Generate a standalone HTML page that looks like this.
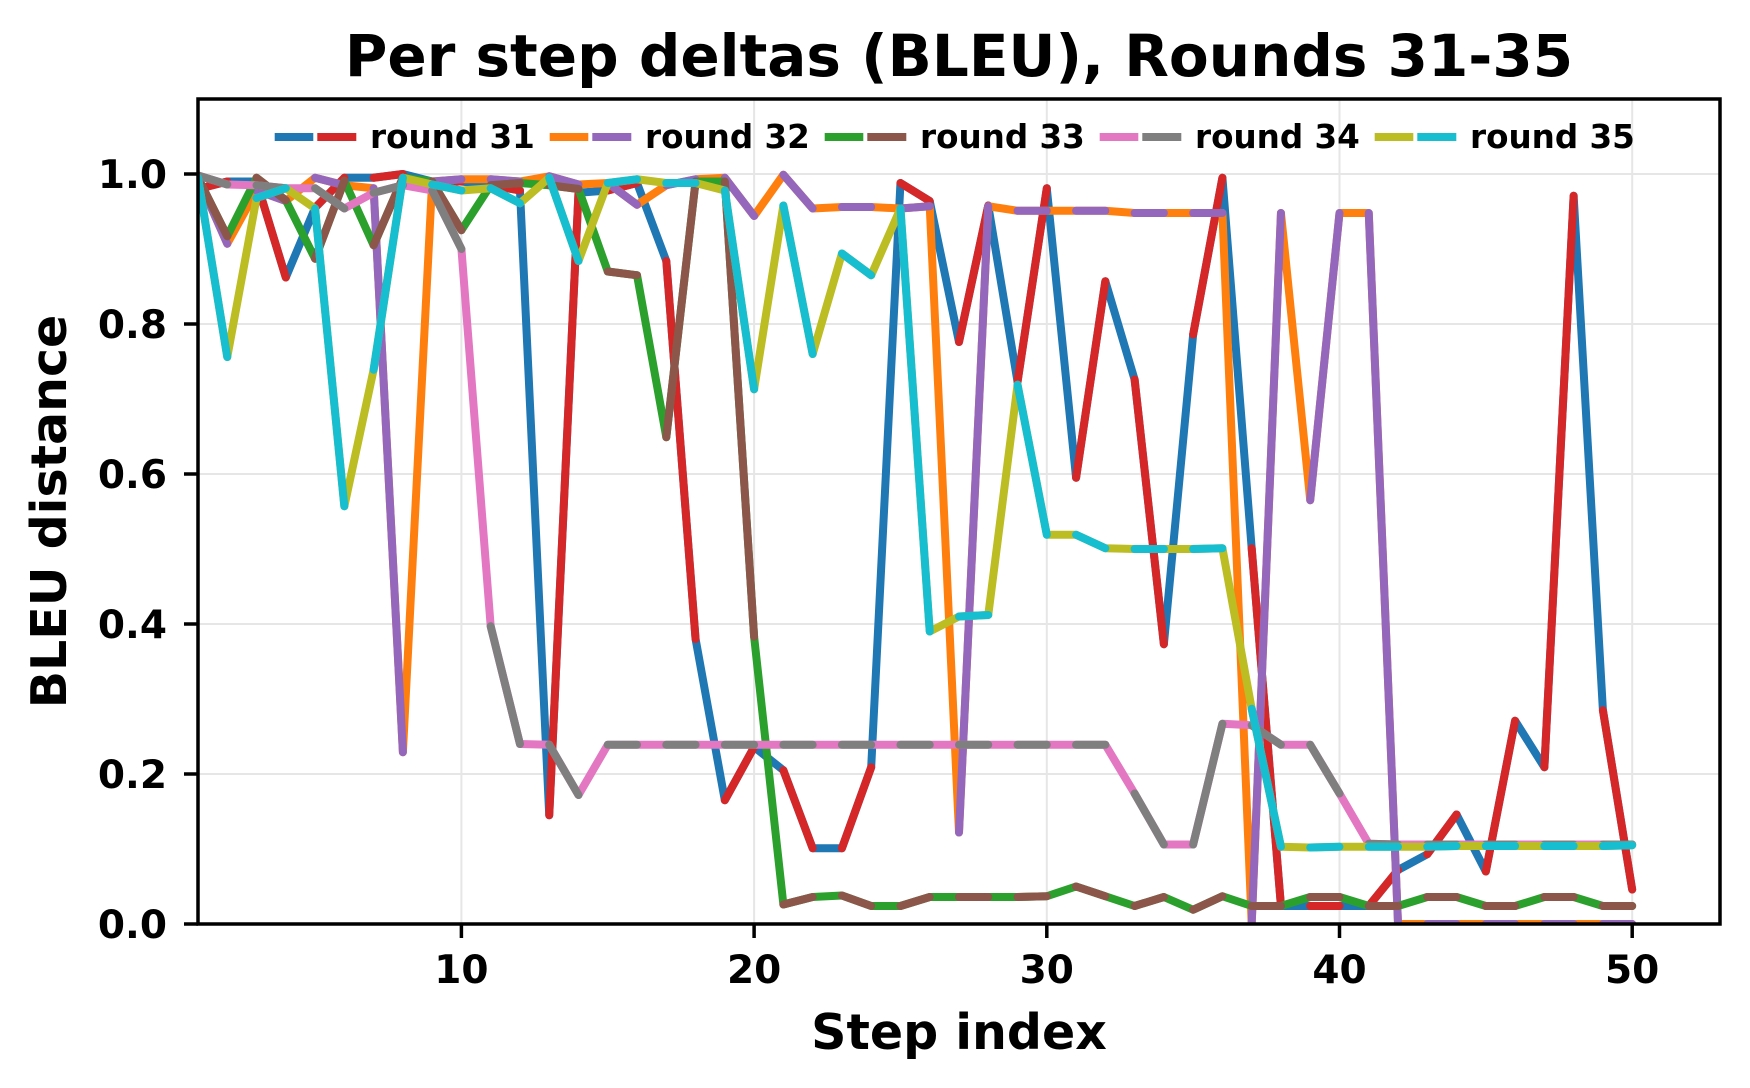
<!DOCTYPE html>
<html>
<head>
<meta charset="utf-8">
<style>
  html, body { margin: 0; padding: 0; background: #ffffff; }
  svg { display: block; }
  text { font-family: "DejaVu Sans", "Liberation Sans", sans-serif; font-weight: bold; fill: #000; }
  .ser { fill: none; stroke-width: 8; stroke-linecap: round; stroke-linejoin: round; vector-effect: non-scaling-stroke; }
</style>
</head>
<body>
<svg width="1750" height="1088" viewBox="0 0 1750 1088" xmlns="http://www.w3.org/2000/svg">
  <rect x="0" y="0" width="1750" height="1088" fill="#ffffff"/>
  <defs>
    <clipPath id="ax">
      <rect x="198" y="99" width="1522" height="825"/>
    </clipPath>
  </defs>

  <!-- grid -->
  <g stroke="#e6e6e6" stroke-width="2">
    <line x1="198" y1="924" x2="1720" y2="924"/>
    <line x1="198" y1="774" x2="1720" y2="774"/>
    <line x1="198" y1="624" x2="1720" y2="624"/>
    <line x1="198" y1="474" x2="1720" y2="474"/>
    <line x1="198" y1="324" x2="1720" y2="324"/>
    <line x1="198" y1="174" x2="1720" y2="174"/>
    <line x1="461.4" y1="99" x2="461.4" y2="924"/>
    <line x1="754.1" y1="99" x2="754.1" y2="924"/>
    <line x1="1046.8" y1="99" x2="1046.8" y2="924"/>
    <line x1="1339.5" y1="99" x2="1339.5" y2="924"/>
    <line x1="1632.2" y1="99" x2="1632.2" y2="924"/>
  </g>

  <!-- data -->
  <g clip-path="url(#ax)">
    <g transform="translate(198,924) scale(29.269,-750)">
      <!-- round 31 -->
      <polyline class="ser" stroke="#1f77b4" points="0,0.98 1,0.99 2,0.99 3,0.862 4,0.955 5,0.995 6,0.995 7,1 8,0.99 9,0.99 10,0.985 11,0.978 12,0.145 13,0.975 14,0.978 15,0.988 16,0.884 17,0.38 18,0.165 19,0.236 20,0.205 21,0.101 22,0.101 23,0.209 24,0.988 25,0.964 26,0.776 27,0.958 28,0.723 29,0.981 30,0.595 31,0.857 32,0.726 33,0.373 34,0.786 35,0.995 36,0.501 37,0.024 38,0.024 39,0.024 40,0.024 41,0.072 42,0.093 43,0.146 44,0.07 45,0.271 46,0.209 47,0.971 48,0.285 49,0.046"/>
      <path class="ser" stroke="#d62728" d="M0,0.98L1,0.99 M2,0.99L3,0.862 M4,0.955L5,0.995 M6,0.995L7,1 M8,0.99L9,0.99 M10,0.985L11,0.978 M12,0.145L13,0.975 M14,0.978L15,0.988 M16,0.884L17,0.38 M18,0.165L19,0.236 M20,0.205L21,0.101 M22,0.101L23,0.209 M24,0.988L25,0.964 M26,0.776L27,0.958 M28,0.723L29,0.981 M30,0.595L31,0.857 M32,0.726L33,0.373 M34,0.786L35,0.995 M36,0.501L37,0.024 M38,0.024L39,0.024 M40,0.024L41,0.072 M42,0.093L43,0.146 M44,0.07L45,0.271 M46,0.209L47,0.971 M48,0.285L49,0.046"/>

      <!-- round 32 -->
      <polyline class="ser" stroke="#ff7f0e" points="0,0.995 1,0.907 2,0.978 3,0.964 4,0.995 5,0.985 6,0.981 7,0.229 8,0.99 9,0.993 10,0.993 11,0.99 12,0.997 13,0.986 14,0.988 15,0.959 16,0.985 17,0.993 18,0.995 19,0.944 20,0.999 21,0.954 22,0.956 23,0.956 24,0.954 25,0.957 26,0.122 27,0.957 28,0.951 29,0.951 30,0.951 31,0.951 32,0.948 33,0.948 34,0.948 35,0.948 36,0 37,0.948 38,0.565 39,0.948 40,0.948 41,0 42,0 43,0 44,0 45,0 46,0 47,0 48,0 49,0"/>
      <path class="ser" stroke="#9467bd" d="M0,0.995L1,0.907 M2,0.978L3,0.964 M4,0.995L5,0.985 M6,0.981L7,0.229 M8,0.99L9,0.993 M10,0.993L11,0.99 M12,0.997L13,0.986 M14,0.988L15,0.959 M16,0.985L17,0.993 M18,0.995L19,0.944 M20,0.999L21,0.954 M22,0.956L23,0.956 M24,0.954L25,0.957 M26,0.122L27,0.957 M28,0.951L29,0.951 M30,0.951L31,0.951 M32,0.948L33,0.948 M34,0.948L35,0.948 M36,0L37,0.948 M38,0.565L39,0.948 M40,0.948L41,0 M42,0L43,0 M44,0L45,0 M46,0L47,0 M48,0L49,0"/>

      <!-- round 33 -->
      <polyline class="ser" stroke="#2ca02c" points="0,0.995 1,0.917 2,0.995 3,0.965 4,0.887 5,0.991 6,0.905 7,0.995 8,0.99 9,0.925 10,0.985 11,0.988 12,0.985 13,0.98 14,0.87 15,0.865 16,0.649 17,0.99 18,0.99 19,0.383 20,0.026 21,0.036 22,0.038 23,0.024 24,0.024 25,0.036 26,0.036 27,0.036 28,0.036 29,0.037 30,0.05 31,0.037 32,0.024 33,0.036 34,0.019 35,0.037 36,0.024 37,0.024 38,0.036 39,0.036 40,0.024 41,0.024 42,0.036 43,0.036 44,0.024 45,0.024 46,0.036 47,0.036 48,0.024 49,0.024"/>
      <path class="ser" stroke="#8c564b" d="M0,0.995L1,0.917 M2,0.995L3,0.965 M4,0.887L5,0.991 M6,0.905L7,0.995 M8,0.99L9,0.925 M10,0.985L11,0.988 M12,0.985L13,0.98 M14,0.87L15,0.865 M16,0.649L17,0.99 M18,0.99L19,0.383 M20,0.026L21,0.036 M22,0.038L23,0.024 M24,0.024L25,0.036 M26,0.036L27,0.036 M28,0.036L29,0.037 M30,0.05L31,0.037 M32,0.024L33,0.036 M34,0.019L35,0.037 M36,0.024L37,0.024 M38,0.036L39,0.036 M40,0.024L41,0.024 M42,0.036L43,0.036 M44,0.024L45,0.024 M46,0.036L47,0.036 M48,0.024L49,0.024"/>

      <!-- round 34 -->
      <polyline class="ser" stroke="#e377c2" points="0,0.998 1,0.986 2,0.985 3,0.981 4,0.981 5,0.954 6,0.975 7,0.985 8,0.978 9,0.9 10,0.397 11,0.24 12,0.239 13,0.172 14,0.239 31,0.239 32,0.174 33,0.106 34,0.106 35,0.267 36,0.265 37,0.239 38,0.239 39,0.174 40,0.107 41,0.106 49,0.106"/>
      <path class="ser" stroke="#7f7f7f" d="M0,0.998L1,0.986 M2,0.985L3,0.981 M4,0.981L5,0.954 M6,0.975L7,0.985 M8,0.978L9,0.9 M10,0.397L11,0.24 M12,0.239L13,0.172 M14,0.239L15,0.239 M16,0.239L17,0.239 M18,0.239L19,0.239 M20,0.239L21,0.239 M22,0.239L23,0.239 M24,0.239L25,0.239 M26,0.239L27,0.239 M28,0.239L29,0.239 M30,0.239L31,0.239 M32,0.174L33,0.106 M34,0.106L35,0.267 M36,0.265L37,0.239 M38,0.239L39,0.174 M40,0.107L41,0.106 M42,0.106L43,0.106 M44,0.106L45,0.106 M46,0.106L47,0.106 M48,0.106L49,0.106"/>

      <!-- round 35 -->
      <polyline class="ser" stroke="#bcbd22" points="0,0.995 1,0.756 2,0.968 3,0.981 4,0.954 5,0.557 6,0.739 7,0.995 8,0.986 9,0.978 10,0.981 11,0.961 12,0.995 13,0.884 14,0.988 15,0.993 16,0.988 17,0.988 18,0.978 19,0.713 20,0.958 21,0.76 22,0.894 23,0.865 24,0.954 25,0.39 26,0.41 27,0.412 28,0.719 29,0.519 30,0.519 31,0.501 32,0.5 33,0.5 34,0.5 35,0.501 36,0.287 37,0.103 38,0.102 39,0.103 40,0.103 41,0.103 42,0.103 43,0.104 44,0.104 45,0.104 46,0.104 47,0.104 48,0.104 49,0.105"/>
      <path class="ser" stroke="#17becf" d="M0,0.995L1,0.756 M2,0.968L3,0.981 M4,0.954L5,0.557 M6,0.739L7,0.995 M8,0.986L9,0.978 M10,0.981L11,0.961 M12,0.995L13,0.884 M14,0.988L15,0.993 M16,0.988L17,0.988 M18,0.978L19,0.713 M20,0.958L21,0.76 M22,0.894L23,0.865 M24,0.954L25,0.39 M26,0.41L27,0.412 M28,0.719L29,0.519 M30,0.519L31,0.501 M32,0.5L33,0.5 M34,0.5L35,0.501 M36,0.287L37,0.103 M38,0.102L39,0.103 M40,0.103L41,0.103 M42,0.103L43,0.104 M44,0.104L45,0.104 M46,0.104L47,0.104 M48,0.104L49,0.105"/>
    </g>
  </g>

  <!-- spines -->
  <rect x="198" y="99" width="1522" height="825" fill="none" stroke="#000" stroke-width="3.5"/>

  <!-- ticks -->
  <g stroke="#000" stroke-width="3.5">
    <line x1="184" y1="924" x2="198" y2="924"/>
    <line x1="184" y1="774" x2="198" y2="774"/>
    <line x1="184" y1="624" x2="198" y2="624"/>
    <line x1="184" y1="474" x2="198" y2="474"/>
    <line x1="184" y1="324" x2="198" y2="324"/>
    <line x1="184" y1="174" x2="198" y2="174"/>
    <line x1="461.4" y1="924" x2="461.4" y2="938"/>
    <line x1="754.1" y1="924" x2="754.1" y2="938"/>
    <line x1="1046.8" y1="924" x2="1046.8" y2="938"/>
    <line x1="1339.5" y1="924" x2="1339.5" y2="938"/>
    <line x1="1632.2" y1="924" x2="1632.2" y2="938"/>
  </g>

  <!-- y tick labels -->
  <g font-size="39" text-anchor="end">
    <text x="167" y="938">0.0</text>
    <text x="167" y="788">0.2</text>
    <text x="167" y="638">0.4</text>
    <text x="167" y="488">0.6</text>
    <text x="167" y="338">0.8</text>
    <text x="167" y="188">1.0</text>
  </g>

  <!-- x tick labels -->
  <g font-size="39" text-anchor="middle">
    <text x="461.4" y="983">10</text>
    <text x="754.1" y="983">20</text>
    <text x="1046.8" y="983">30</text>
    <text x="1339.5" y="983">40</text>
    <text x="1632.2" y="983">50</text>
  </g>

  <!-- axis labels -->
  <text x="959" y="1049" font-size="49" text-anchor="middle">Step index</text>
  <text transform="translate(66,511.5) rotate(-90)" font-size="49" text-anchor="middle">BLEU distance</text>

  <!-- title -->
  <text x="959" y="76" font-size="58" text-anchor="middle">Per step deltas (BLEU), Rounds 31-35</text>

  <!-- legend -->
  <g>
    <rect x="274.7" y="133" width="38.6" height="8" fill="#1f77b4"/>
    <rect x="317.3" y="133" width="39" height="8" fill="#d62728"/>
    <text x="370" y="148" font-size="32.6">round 31</text>

    <rect x="549.7" y="133" width="38.6" height="8" fill="#ff7f0e"/>
    <rect x="592.3" y="133" width="39" height="8" fill="#9467bd"/>
    <text x="645" y="148" font-size="32.6">round 32</text>

    <rect x="824.7" y="133" width="38.6" height="8" fill="#2ca02c"/>
    <rect x="867.3" y="133" width="39" height="8" fill="#8c564b"/>
    <text x="920" y="148" font-size="32.6">round 33</text>

    <rect x="1099.7" y="133" width="38.6" height="8" fill="#e377c2"/>
    <rect x="1142.3" y="133" width="39" height="8" fill="#7f7f7f"/>
    <text x="1195" y="148" font-size="32.6">round 34</text>

    <rect x="1374.7" y="133" width="38.6" height="8" fill="#bcbd22"/>
    <rect x="1417.3" y="133" width="39" height="8" fill="#17becf"/>
    <text x="1470" y="148" font-size="32.6">round 35</text>
  </g>
</svg>
</body>
</html>
